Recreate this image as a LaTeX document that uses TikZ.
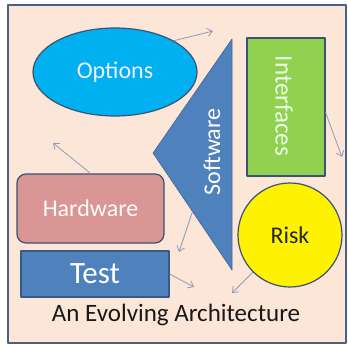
\documentclass[tikz,border=0pt]{standalone}
\usepackage{fontspec}
\setmainfont{Carlito}
\usetikzlibrary{arrows.meta,calc,shapes.geometric}
\definecolor{peach}{HTML}{FCE6D8}
\definecolor{framec}{HTML}{4B6183}
\definecolor{edgeblue}{HTML}{385278}
\definecolor{optblue}{HTML}{00B0F0}
\definecolor{swblue}{HTML}{4F81BD}
\definecolor{intgreen}{HTML}{92D050}
\definecolor{hwpink}{HTML}{D99694}
\definecolor{arrowgray}{HTML}{8C9DB5}
\begin{document}
\begin{tikzpicture}[x=1pt, y=-1pt, line join=round,
    blob/.style={draw=edgeblue, line width=1.2pt, inner sep=0pt,
      font=\fontsize{24}{28}\selectfont},
    flow/.style={draw=arrowgray, line width=0.8pt,
      -{Straight Barb[length=5pt,width=8pt]}}]
  \useasboundingbox (0,0) rectangle (348,345);
  \fill[white] (0,0) rectangle (348,345);
  \draw[fill=peach, draw=framec, line width=1.5pt] (8,5) rectangle (346,343);
  % shapes
  \node[blob, ellipse, fill=optblue, text=blue!6, minimum width=164pt,
    minimum height=88pt] (opt) at (115,72) {Options};
  \coordinate (tA) at (153,153);
  \coordinate (tB) at (232,39);
  \coordinate (tC) at (232,270);
  \draw[fill=swblue, draw=swblue!80!black, line width=0.6pt] (tA) -- (tB) -- (tC) -- cycle;
  \node[rotate=90, text=white, font=\fontsize{24}{28}\selectfont] (sw) at (212,152) {Software};
  \node[blob, rectangle, fill=intgreen, text=green!8, minimum width=78pt,
    minimum height=138pt] (intf) at (286,107) {};
  \node[rotate=-90, text=green!8, font=\fontsize{25}{28}\selectfont] (intft) at (284,106) {Interfaces};
  \node[blob, rectangle, rounded corners=9pt, fill=hwpink, text=white!95!pink,
    minimum width=147pt, minimum height=69pt] (hw) at (90.5,208.5) {Hardware};
  \node[blob, rectangle, fill=swblue, draw=swblue!70!black, text=white,
    font=\fontsize{31}{34}\selectfont, minimum width=148pt,
    minimum height=46pt] (test) at (95,274) {Test};
  \node[blob, circle, fill=yellow, text=black!85, minimum size=104pt] (risk) at (290,235) {Risk};
  \node[font=\fontsize{25}{28}\selectfont, text=black!90] (cap) at (176,315) {An Evolving Architecture};
  % arrows
  \coordinate (tm) at ($(tA)!0.5!(tC)$);
  \coordinate (e1) at (213,31);
  \coordinate (e2) at (342,157);
  \coordinate (e3) at (53,143);
  \coordinate (e4) at (179,252);
  \coordinate (e5) at (194,287);
  \coordinate (e6) at (232,293);
  \foreach \a/\b in {opt.28/e1, intf.-8/e2, hw.north/e3, tm/e4, test.east/e5, risk.225/e6}
    \draw[flow] (\a) -- (\b);
\end{tikzpicture}
\end{document}
